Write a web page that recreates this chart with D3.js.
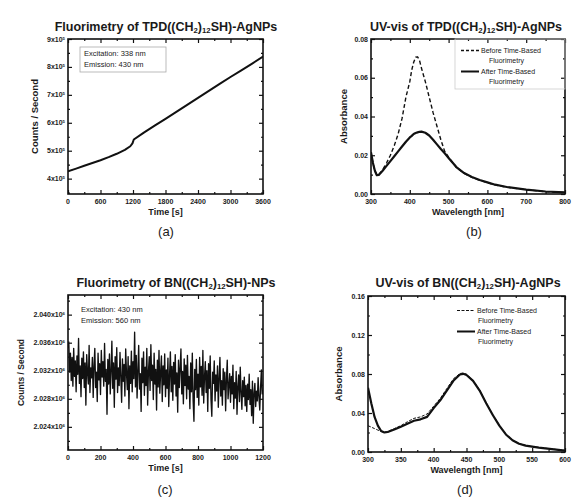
<!DOCTYPE html>
<html>
<head>
<meta charset="utf-8">
<script src="https://cdn.jsdelivr.net/npm/d3@7"></script>
<style>
body { margin: 0; background: #fff; }
text { font-family: "Liberation Sans", Arial, sans-serif; fill: #1a1a1a; }
</style>
</head>
<body>
<div id="chart"></div>
<script>
// (a) fluorimetry TPD, counts vs time
const timeA = [0, 150, 300, 450, 600, 750, 900, 1050, 1150, 1190, 1215, 1400, 1600, 1800, 2000, 2200, 2400, 2600, 2800, 3000, 3200, 3400, 3600]
const countsA = [426000, 436000, 446000, 456000, 466000, 477000, 489000, 503000, 516000, 526000, 540000, 565000, 590000, 614000, 639000, 664000, 689000, 714000, 739000, 764000, 788000, 812000, 837000]
const ticksXA = [0, 600, 1200, 1800, 2400, 3000, 3600]
const ticksYA = [4, 5, 6, 7, 8, 9]   // x10^5

// (b) UV-vis TPD
const wlB = [300, 305, 310, 315, 320, 330, 340, 350, 360, 370, 380, 390, 400, 405, 410, 415, 420, 425, 430, 440, 450, 460, 470, 480, 490, 500, 520, 540, 560, 580, 600, 620, 650, 700, 750, 800]
const beforeB = [0.0215, 0.016, 0.012, 0.0098, 0.0100, 0.0125, 0.016, 0.020, 0.025, 0.031, 0.039, 0.050, 0.058, 0.064, 0.068, 0.0706, 0.0708, 0.069, 0.065, 0.058, 0.050, 0.042, 0.035, 0.028, 0.022, 0.019, 0.0137, 0.0106, 0.0086, 0.0071, 0.0058, 0.0047, 0.0035, 0.0022, 0.0012, 0.0007]
const afterB = [0.0215, 0.016, 0.012, 0.0097, 0.0098, 0.0120, 0.0145, 0.017, 0.0195, 0.022, 0.0245, 0.027, 0.0292, 0.030, 0.031, 0.0315, 0.0318, 0.0321, 0.0322, 0.0316, 0.0302, 0.0280, 0.0256, 0.0232, 0.021, 0.0186, 0.0139, 0.0108, 0.0088, 0.0072, 0.006, 0.0048, 0.0036, 0.0023, 0.0013, 0.0008]
const ticksXB = [300, 400, 500, 600, 700, 800]
const ticksYB = [0, 0.02, 0.04, 0.06, 0.08]

// (c) fluorimetry BN, one reading every 5 s, counts in 10^6
const countsC = [
  2.0352, 2.0361, 2.0318, 2.0345, 2.0306, 2.0339, 2.0298, 2.0352, 2.0312, 2.0334,
  2.0290, 2.0341, 2.0315, 2.0366, 2.0302, 2.0327, 2.0283, 2.0338, 2.0309, 2.0347,
  2.0296, 2.0331, 2.0271, 2.0343, 2.0318, 2.0301, 2.0356, 2.0289, 2.0324, 2.0310,
  2.0339, 2.0282, 2.0327, 2.0352, 2.0296, 2.0318, 2.0276, 2.0345, 2.0307, 2.0330,
  2.0286, 2.0349, 2.0311, 2.0333, 2.0298, 2.0359, 2.0305, 2.0322, 2.0258, 2.0336,
  2.0301, 2.0344, 2.0287, 2.0320, 2.0362, 2.0295, 2.0331, 2.0268, 2.0340, 2.0308,
  2.0353, 2.0289, 2.0324, 2.0299, 2.0346, 2.0311, 2.0275, 2.0337, 2.0305, 2.0329,
  2.0284, 2.0351, 2.0316, 2.0293, 2.0340, 2.0266, 2.0327, 2.0302, 2.0348, 2.0290,
  2.0333, 2.0309, 2.0375, 2.0297, 2.0342, 2.0281, 2.0320, 2.0356, 2.0294, 2.0316,
  2.0262, 2.0338, 2.0303, 2.0347, 2.0285, 2.0325, 2.0299, 2.0352, 2.0271, 2.0319,
  2.0340, 2.0292, 2.0357, 2.0306, 2.0328, 2.0279, 2.0345, 2.0301, 2.0322, 2.0264,
  2.0335, 2.0297, 2.0349, 2.0288, 2.0318, 2.0341, 2.0276, 2.0327, 2.0300, 2.0344,
  2.0283, 2.0321, 2.0295, 2.0338, 2.0269, 2.0314, 2.0347, 2.0290, 2.0326, 2.0278,
  2.0332, 2.0301, 2.0343, 2.0284, 2.0317, 2.0261, 2.0335, 2.0296, 2.0324, 2.0351,
  2.0287, 2.0319, 2.0273, 2.0337, 2.0299, 2.0328, 2.0280, 2.0342, 2.0294, 2.0312,
  2.0266, 2.0331, 2.0290, 2.0345, 2.0278, 2.0248, 2.0322, 2.0293, 2.0336, 2.0282,
  2.0315, 2.0271, 2.0339, 2.0297, 2.0326, 2.0285, 2.0349, 2.0274, 2.0311, 2.0333,
  2.0289, 2.0320, 2.0262, 2.0330, 2.0295, 2.0341, 2.0279, 2.0255, 2.0318, 2.0302,
  2.0334, 2.0277, 2.0314, 2.0291, 2.0327, 2.0268, 2.0310, 2.0339, 2.0284, 2.0306,
  2.0271, 2.0323, 2.0293, 2.0318, 2.0263, 2.0308, 2.0335, 2.0280, 2.0299, 2.0316,
  2.0275, 2.0312, 2.0287, 2.0328, 2.0266, 2.0303, 2.0281, 2.0319, 2.0258, 2.0297,
  2.0314, 2.0276, 2.0325, 2.0289, 2.0265, 2.0306, 2.0283, 2.0311, 2.0270, 2.0299,
  2.0262, 2.0301, 2.0279, 2.0315, 2.0272, 2.0293, 2.0256, 2.0305, 2.0245, 2.0288,
  2.0302, 2.0269, 2.0291, 2.0277, 2.0310, 2.0283, 2.0264, 2.0296, 2.0321, 2.0287,
  2.0293
]
const stepC = 5
const ticksXC = [0, 200, 400, 600, 800, 1000, 1200]
const ticksYC = [2.024, 2.028, 2.032, 2.036, 2.040]   // x10^6

// (d) UV-vis BN
const wlD = [300, 305, 310, 315, 320, 325, 330, 340, 350, 360, 370, 380, 390, 400, 410, 420, 430, 440, 445, 450, 460, 470, 480, 490, 500, 510, 520, 530, 540, 550, 560, 570, 580, 590, 600]
const beforeD = [0.027, 0.0255, 0.024, 0.0225, 0.021, 0.0205, 0.021, 0.024, 0.027, 0.031, 0.0345, 0.036, 0.039, 0.047, 0.055, 0.065, 0.075, 0.0805, 0.081, 0.0798, 0.0735, 0.0635, 0.0505, 0.0385, 0.0275, 0.0185, 0.0123, 0.0088, 0.0068, 0.0057, 0.0047, 0.0039, 0.0031, 0.0023, 0.0016]
const afterD = [0.066, 0.050, 0.036, 0.027, 0.0215, 0.020, 0.0205, 0.023, 0.026, 0.029, 0.032, 0.0335, 0.036, 0.045, 0.053, 0.063, 0.073, 0.0795, 0.0802, 0.079, 0.073, 0.063, 0.050, 0.038, 0.027, 0.018, 0.012, 0.0085, 0.0065, 0.0055, 0.0045, 0.0038, 0.003, 0.0022, 0.0015]
const ticksXD = [300, 350, 400, 450, 500, 550, 600]
const ticksYD = [0, 0.04, 0.08, 0.12, 0.16]

const W = 574, H = 504
const svg = d3.select('#chart').append('svg')
  .attr('width', W).attr('height', H)
  .attr('viewBox', `0 0 ${W} ${H}`)
  .attr('xmlns', 'http://www.w3.org/2000/svg')

function richText(sel, parts) {
  // parts: [text, 'sub'|'sup'|null]
  parts.forEach(([t, kind]) => {
    const ts = sel.append('tspan').text(t)
    if (kind === 'sub') ts.attr('baseline-shift', '-30%').attr('font-size', '62%')
    if (kind === 'sup') ts.attr('baseline-shift', '45%').attr('font-size', '62%')
  })
}

function titleParts(pre, post) {
  return [[pre, null], ['2', 'sub'], [')', null], ['12', 'sub'], [post, null]]
}

function panel(cfg) {
  const g = svg.append('g')
  const x = d3.scaleLinear().domain(cfg.xDomain).range([cfg.left, cfg.right])
  const y = d3.scaleLinear().domain(cfg.yDomain).range([cfg.bottom, cfg.top])

  const clipId = 'clip-' + cfg.id
  g.append('clipPath').attr('id', clipId).append('rect')
    .attr('x', cfg.left).attr('y', cfg.top)
    .attr('width', cfg.right - cfg.left).attr('height', cfg.bottom - cfg.top)

  const line = d3.line().x(d => x(d[0])).y(d => y(d[1]))
  const plot = g.append('g').attr('clip-path', `url(#${clipId})`)
  cfg.series.forEach(s => {
    plot.append('path')
      .datum(s.xs.map((v, i) => [v, s.ys[i]]))
      .attr('d', line)
      .attr('fill', 'none')
      .attr('stroke', '#111')
      .attr('stroke-width', s.width)
      .attr('stroke-dasharray', s.dash || null)
      .attr('stroke-linejoin', 'round')
  })

  // ticks on all four sides, pointing inward
  const axes = [
    [d3.axisBottom(x), `translate(0,${cfg.bottom})`, cfg.xTicks, cfg.xMinor],
    [d3.axisTop(x), `translate(0,${cfg.top})`, cfg.xTicks, cfg.xMinor],
    [d3.axisLeft(y), `translate(${cfg.left},0)`, cfg.yTicks, cfg.yMinor],
    [d3.axisRight(y), `translate(${cfg.right},0)`, cfg.yTicks, cfg.yMinor]
  ]
  axes.forEach(([ax, tr, major, minor]) => {
    const a1 = g.append('g').attr('transform', tr)
      .call(ax.tickValues(major).tickSize(-4).tickFormat(''))
    const a2 = g.append('g').attr('transform', tr)
      .call(ax.tickValues(minor).tickSize(-2).tickFormat(''))
    ;[a1, a2].forEach(a => {
      a.select('.domain').remove()
      a.selectAll('line').attr('stroke', '#111').attr('stroke-width', 1.2)
    })
  })

  g.append('rect')
    .attr('x', cfg.left).attr('y', cfg.top)
    .attr('width', cfg.right - cfg.left).attr('height', cfg.bottom - cfg.top)
    .attr('fill', 'none').attr('stroke', '#111').attr('stroke-width', 1.6)

  // tick labels
  g.selectAll('text.xt').data(cfg.xTicks).join('text')
    .attr('class', 'xt')
    .attr('x', d => x(d)).attr('y', cfg.bottom + 10)
    .attr('text-anchor', 'middle')
    .attr('font-size', 7).attr('font-weight', 'bold')
    .text(d => d)

  g.selectAll('text.yt').data(cfg.yTicks).join('text')
    .attr('class', 'yt')
    .attr('x', cfg.left - 3).attr('y', d => y(d) + 2.5)
    .attr('text-anchor', 'end')
    .attr('font-size', 7).attr('font-weight', 'bold')
    .each(function (d) { richText(d3.select(this), cfg.yLabel(d)) })

  // title
  g.append('text')
    .attr('x', cfg.titleX).attr('y', cfg.titleY)
    .attr('text-anchor', 'middle')
    .attr('font-size', 12.5).attr('font-weight', 'bold')
    .call(t => richText(t, cfg.title))

  // axis titles
  g.append('text')
    .attr('x', (cfg.left + cfg.right) / 2).attr('y', cfg.bottom + 21)
    .attr('text-anchor', 'middle')
    .attr('font-size', 9).attr('font-weight', 'bold')
    .text(cfg.xTitle)

  g.append('text')
    .attr('transform', `translate(${cfg.yTitleX},${(cfg.top + cfg.bottom) / 2}) rotate(-90)`)
    .attr('text-anchor', 'middle')
    .attr('font-size', cfg.yTitleSize).attr('font-weight', 'bold')
    .text(cfg.yTitle)

  // panel letter
  g.append('text')
    .attr('x', cfg.letterX).attr('y', cfg.letterY)
    .attr('text-anchor', 'middle')
    .attr('font-size', 13)
    .text(cfg.letter)

  // note box (excitation / emission)
  if (cfg.note) {
    const n = cfg.note
    if (n.box) {
      g.append('rect')
        .attr('x', n.x - 4).attr('y', n.y - 9)
        .attr('width', n.w).attr('height', 25)
        .attr('fill', 'none').attr('stroke', '#aaa').attr('stroke-width', 0.8)
    }
    n.lines.forEach((t, i) => {
      g.append('text')
        .attr('x', n.x).attr('y', n.y + i * 11)
        .attr('font-size', 7.5)
        .text(t)
    })
  }

  // legend
  if (cfg.legend) {
    const L = cfg.legend
    if (L.box) {
      g.append('rect')
        .attr('x', L.x - 6).attr('y', cfg.top)
        .attr('width', cfg.right - L.x + 6).attr('height', L.h)
        .attr('fill', 'none').attr('stroke', '#ccc').attr('stroke-width', 0.8)
    }
    L.items.forEach((it, i) => {
      const yy = L.y + i * 21
      g.append('line')
        .attr('x1', L.x).attr('x2', L.x + L.len)
        .attr('y1', yy - 2.5).attr('y2', yy - 2.5)
        .attr('stroke', '#111').attr('stroke-width', it.width)
        .attr('stroke-dasharray', it.dash || null)
      g.append('text')
        .attr('x', L.x + L.len + 2).attr('y', yy)
        .attr('font-size', 7)
        .text(it.label[0])
      g.append('text')
        .attr('x', L.x + L.len + L.indent).attr('y', yy + 10)
        .attr('font-size', 7)
        .text(it.label[1])
    })
  }
}

const sup = p => d => [[d + 'x10', null], [p, 'sup']]
const fix2 = d => [[d3.format('.2f')(d), null]]

panel({
  id: 'a', left: 68, right: 263, top: 39, bottom: 194,
  xDomain: [0, 3600], yDomain: [345000, 900000],
  xTicks: ticksXA, xMinor: d3.range(300, 3600, 600),
  yTicks: ticksYA.map(v => v * 1e5), yMinor: [350000, 450000, 550000, 650000, 750000, 850000],
  yLabel: d => sup('5')(d / 1e5),
  series: [{ xs: timeA, ys: countsA, width: 2 }],
  title: titleParts('Fluorimetry of TPD((CH', 'SH)-AgNPs'), titleX: 166, titleY: 31,
  xTitle: 'Time [s]', yTitle: 'Counts / Second', yTitleX: 38, yTitleSize: 9.5,
  letter: '(a)', letterX: 166, letterY: 236,
  note: { x: 84, y: 56, w: 86, box: true, lines: ['Excitation:  338 nm', 'Emission:  430 nm'] }
})

panel({
  id: 'b', left: 371, right: 565, top: 39, bottom: 194,
  xDomain: [300, 800], yDomain: [0, 0.08],
  xTicks: ticksXB, xMinor: d3.range(350, 800, 100),
  yTicks: ticksYB, yMinor: [0.01, 0.03, 0.05, 0.07],
  yLabel: fix2,
  series: [
    { xs: wlB, ys: beforeB, width: 1.4, dash: '4,2.5' },
    { xs: wlB, ys: afterB, width: 2.2 }
  ],
  title: titleParts('UV-vis of TPD((CH', 'SH)-AgNPs'), titleX: 466, titleY: 31,
  xTitle: 'Wavelength [nm]', yTitle: 'Absorbance', yTitleX: 347, yTitleSize: 9.5,
  letter: '(b)', letterX: 474, letterY: 236,
  legend: {
    x: 461, y: 53, len: 18, indent: 10, h: 50, box: true,
    items: [
      { label: ['Before Time-Based', 'Fluorimetry'], width: 1.3, dash: '3,2' },
      { label: ['After Time-Based', 'Fluorimetry'], width: 2 }
    ]
  }
})

panel({
  id: 'c', left: 68, right: 263, top: 295, bottom: 450,
  xDomain: [0, 1200], yDomain: [2.0207, 2.0428],
  xTicks: ticksXC, xMinor: d3.range(100, 1200, 200),
  yTicks: ticksYC, yMinor: [2.022, 2.026, 2.030, 2.034, 2.038, 2.042],
  yLabel: d => sup('6')(d3.format('.3f')(d)),
  series: [{ xs: countsC.map((v, i) => i * stepC), ys: countsC, width: 1.35 }],
  title: titleParts('Fluorimetry of BN((CH', 'SH)-NPs'), titleX: 176, titleY: 287,
  xTitle: 'Time [s]', yTitle: 'Counts / Second', yTitleX: 24, yTitleSize: 8.5,
  letter: '(c)', letterX: 165, letterY: 494,
  note: { x: 81, y: 312, w: 86, box: false, lines: ['Excitation: 430 nm', 'Emission: 560 nm'] }
})

panel({
  id: 'd', left: 368, right: 565, top: 296, bottom: 452,
  xDomain: [300, 600], yDomain: [0, 0.16],
  xTicks: ticksXD, xMinor: d3.range(325, 600, 50),
  yTicks: ticksYD, yMinor: [0.02, 0.06, 0.10, 0.14],
  yLabel: fix2,
  series: [
    { xs: wlD, ys: beforeD, width: 1, dash: '3,1.5' },
    { xs: wlD, ys: afterD, width: 2.2 }
  ],
  title: titleParts('UV-vis of BN((CH', 'SH)-AgNPs'), titleX: 468, titleY: 287,
  xTitle: 'Wavelength [nm]', yTitle: 'Absorbance', yTitleX: 342, yTitleSize: 9.5,
  letter: '(d)', letterX: 465, letterY: 494,
  legend: {
    x: 457, y: 313, len: 18, indent: 3, h: 52, box: false,
    items: [
      { label: ['Before Time-Based', 'Fluorimetry'], width: 1, dash: '3,1.5' },
      { label: ['After Time-Based', 'Fluorimetry'], width: 2 }
    ]
  }
})
</script>
</body>
</html>
